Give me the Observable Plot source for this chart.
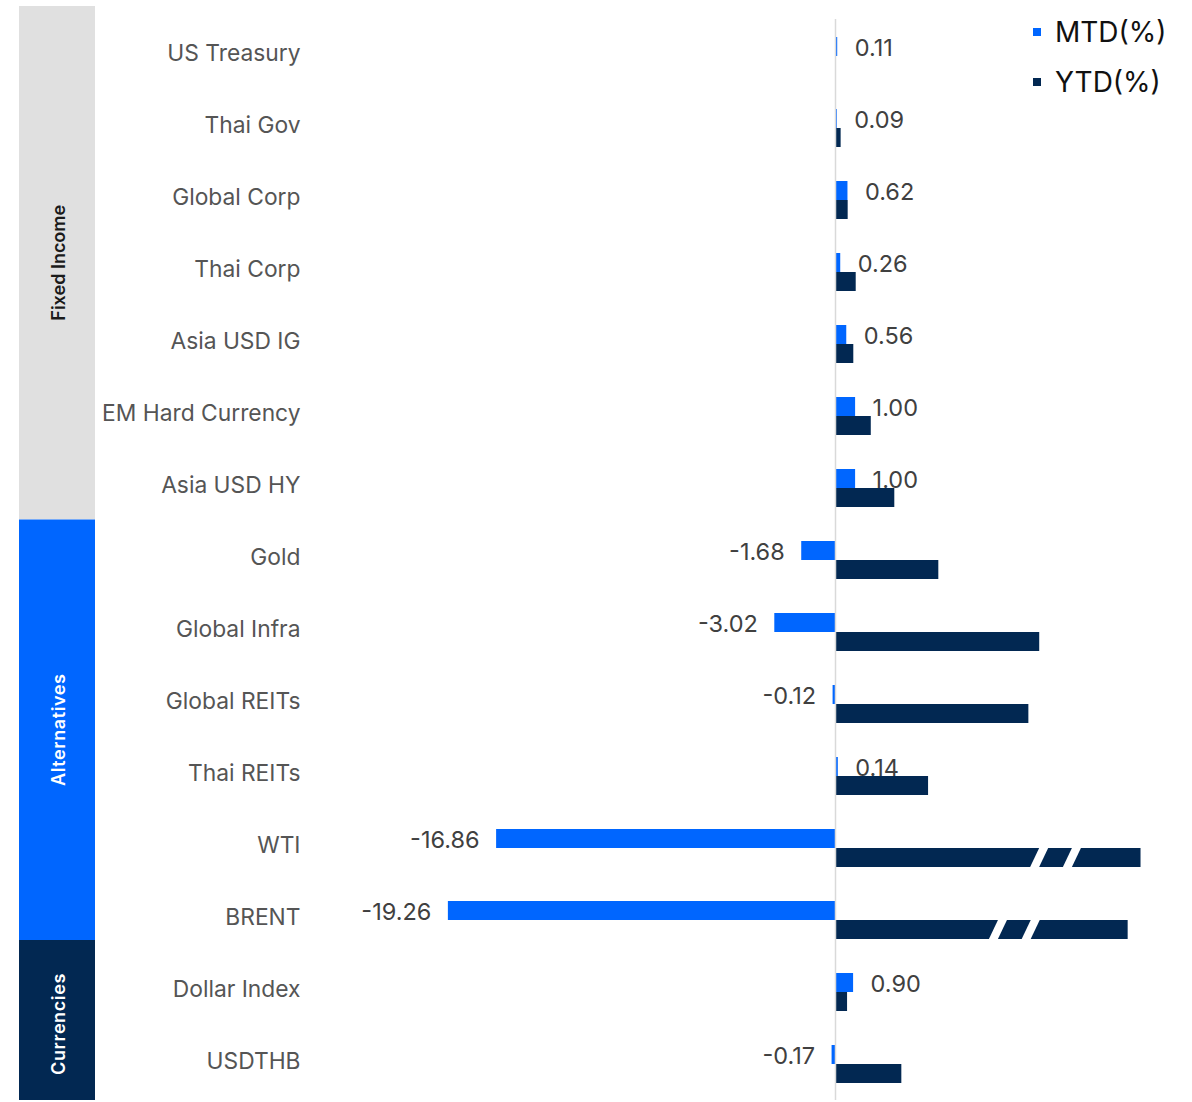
<!DOCTYPE html>
<html><head><meta charset="utf-8">
<script src="https://cdn.jsdelivr.net/npm/d3@7"></script>
<script src="https://cdn.jsdelivr.net/npm/@observablehq/plot@0.6"></script>
<style>
body{margin:0;background:#fff;font-family:Inter,"Noto Sans",sans-serif;}
#wrap{position:relative;width:1192px;height:1102px;overflow:hidden;}
#wrap svg{position:absolute;left:0;top:0;}
.lg{position:absolute;left:1033px;height:40px;display:flex;align-items:center;font-size:28px;color:#111;font-family:Inter,sans-serif;}
.lg .sw{display:inline-block;width:8px;height:8px;margin-right:14px;}
</style></head><body><div id="wrap"></div>
<script>
const categories = ["US Treasury","Thai Gov","Global Corp","Thai Corp","Asia USD IG","EM Hard Currency","Asia USD HY","Gold","Global Infra","Global REITs","Thai REITs","WTI","BRENT","Dollar Index","USDTHB"];
const mtd = [0.11,0.09,0.62,0.26,0.56,1.00,1.00,-1.68,-3.02,-0.12,0.14,-16.86,-19.26,0.90,-0.17];
const ytd = [0,0.28,0.63,1.03,0.91,1.78,2.95,5.14,10.16,9.62,4.63,15.2,14.56,0.6,3.3];
const groupNames = ["Fixed Income","Alternatives","Currencies"];
const groupSizes = [7,6,2];
const breakCats = ["WTI","WTI","BRENT","BRENT"];
const breakAt = [10.12,11.75,8.07,9.70];
const seriesNames = ["MTD(%)","YTD(%)"];

const COL_MTD = "#0066ff", COL_YTD = "#022852";
const data = categories.map((c,i)=>({cat:c, mtd:mtd[i], ytd:ytd[i]}));
const breaks = breakCats.map((c,i)=>({cat:c, at:breakAt[i]}));

const slash = {draw(ctx){ctx.moveTo(-9.5,10.5);ctx.lineTo(-0.5,10.5);ctx.lineTo(9.5,-10.5);ctx.lineTo(0.5,-10.5);ctx.closePath();}};

function groupBands(index, scales) {
  const y = scales.y;
  const step = y(categories[1]) - y(categories[0]);
  const g = d3.create("svg:g");
  const fills = ["#e0e0e0", COL_MTD, COL_YTD];
  const txt = ["#1a1a1a","#ffffff","#ffffff"];
  const spacing = [0, 0.6, 0.6];
  const nudge = [-14,-4.5,-16,0];
  let start = 0;
  groupNames.forEach((name,i)=>{
    const top = y(categories[start]) + nudge[i];
    const bottom = y(categories[start+groupSizes[i]-1]) + step + nudge[i+1];
    g.append("rect").attr("x",19).attr("width",76).attr("y",top).attr("height",bottom-top).attr("fill",fills[i]);
    g.append("text").attr("transform",`translate(59,${(top+bottom)/2 + (i===2?4:0)}) rotate(-90)`)
      .attr("text-anchor","middle").attr("dy","0.35em").attr("letter-spacing",spacing[i])
      .attr("font-size",18).attr("font-weight",600).attr("fill",txt[i]).text(name);
    start += groupSizes[i];
  });
  return g.node();
}

const plot = Plot.plot({
  width:1192, height:1102, marginTop:19, marginBottom:2, marginLeft:300, marginRight:0,
  style:{fontFamily:"Inter, 'Noto Sans', sans-serif", background:"transparent", overflow:"visible"},
  x:{domain:[-20,15.2], range:[835-20*20.1, 835+15.2*20.1], axis:null},
  y:{domain:categories, padding:0, axis:null},
  marks:[
    groupBands,
    Plot.barX(data, {x:"mtd", y:"cat", fill:COL_MTD, insetTop:17, insetBottom:36}),
    Plot.barX(data, {x:"ytd", y:"cat", fill:COL_YTD, insetTop:36, insetBottom:17}),
    Plot.dot(breaks, {x:"at", y:"cat", dy:9.5, symbol:slash, r:5, fill:"white", stroke:"none"}),
    Plot.ruleX([0], {stroke:"#d9d9d9", strokeWidth:1.5}),
    Plot.text(categories, {y:d=>d, text:d=>d, frameAnchor:"left", textAnchor:"end", dy:-3, fontSize:22.8, fill:"#555"}),
    Plot.text(data.filter(d=>d.mtd>=0), {x:"mtd", y:"cat", text:d=>d.mtd.toFixed(2), textAnchor:"start", dx:17, dy:-8, fontSize:23.5, fill:"#404040"}),
    Plot.text(data.filter(d=>d.mtd<0), {x:"mtd", y:"cat", text:d=>d.mtd.toFixed(2), textAnchor:"end", dx:-17, dy:-8, fontSize:23.5, fill:"#404040"})
  ]
});
const wrap = document.getElementById("wrap");
wrap.appendChild(plot);
[COL_MTD, COL_YTD].forEach((c,i)=>{
  const d = document.createElement("div");
  d.className = "lg";
  d.style.top = (12 + i*50) + "px";
  d.innerHTML = `<span class="sw" style="background:${c}"></span><span>${seriesNames[i]}</span>`;
  wrap.appendChild(d);
});
</script></body></html>
